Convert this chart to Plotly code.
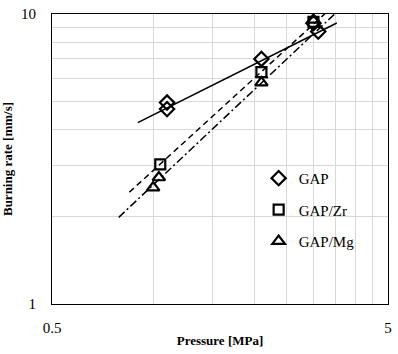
import plotly.graph_objects as go

# Data
gap_p = [1.1, 1.1, 2.1, 3.0, 3.1]
gap_r = [4.95, 4.7, 7.0, 9.3, 8.7]
zr_p = [1.05, 2.1, 3.0]
zr_r = [3.03, 6.3, 9.4]
mg_p = [1.0, 1.04, 2.1, 3.0]
mg_r = [2.52, 2.73, 5.8, 9.55]

# Fitted trend lines (end points)
gap_fit_p = [0.9, 3.52]
gap_fit_r = [4.22, 9.31]
zr_fit_p = [0.85, 3.3]
zr_fit_r = [2.43, 10.2]
mg_fit_p = [0.79, 3.5]
mg_fit_r = [1.99, 10.1]

x_ticks = [0.5, 1, 1.5, 2, 2.5, 3, 3.5, 4, 4.5, 5]
x_labels = ["0.5", "", "", "", "", "", "", "", "", "5"]
y_ticks = [1, 2, 3, 4, 5, 6, 7, 8, 9, 10]
y_labels = ["1", "", "", "", "", "", "", "", "", "10"]

SERIF = "Liberation Serif"

fig = go.Figure()

fig.add_trace(go.Scatter(x=gap_fit_p, y=gap_fit_r, mode="lines",
                         line=dict(color="black", width=1.5), showlegend=False, hoverinfo="skip"))
fig.add_trace(go.Scatter(x=zr_fit_p, y=zr_fit_r, mode="lines",
                         line=dict(color="black", width=1.5, dash="6px,4px"), showlegend=False, hoverinfo="skip"))
fig.add_trace(go.Scatter(x=mg_fit_p, y=mg_fit_r, mode="lines",
                         line=dict(color="black", width=1.5, dash="8px,3px,2px,3px"), showlegend=False, hoverinfo="skip"))

fig.add_trace(go.Scatter(x=gap_p, y=gap_r, mode="markers", name="GAP", legendgroup="a",
                         marker=dict(symbol="diamond-open", size=11, color="black", line=dict(width=2.2, color="black"))))
fig.add_trace(go.Scatter(x=zr_p, y=zr_r, mode="markers", name="GAP/Zr", legendgroup="b",
                         marker=dict(symbol="square-open", size=10, color="black", line=dict(width=2.2, color="black"))))
fig.add_trace(go.Scatter(x=mg_p, y=mg_r, mode="markers", name="GAP/Mg", legendgroup="c",
                         marker=dict(symbol="triangle-up-open", size=11, color="black", line=dict(width=2.2, color="black"))))

fig.add_shape(type="rect", xref="paper", yref="paper", x0=0.565, x1=0.994, y0=0.165, y1=0.478,
              fillcolor="white", line=dict(width=0), layer="between")

fig.update_xaxes(type="log", range=[-0.30103, 0.69897], tickvals=x_ticks, ticktext=x_labels,
                 showgrid=True, gridcolor="#d9d9d9", gridwidth=1,
                 showline=True, linecolor="black", linewidth=1, mirror=True,
                 ticks="", ticklabelstandoff=10,
                 tickfont=dict(family=SERIF, size=15, color="black"),
                 title=dict(text="Pressure [MPa]", font=dict(family=SERIF, size=13, color="black", weight="bold"),
                            standoff=0),
                 zeroline=False)
fig.update_yaxes(type="log", range=[0, 1], tickvals=y_ticks, ticktext=y_labels,
                 showgrid=True, gridcolor="#d9d9d9", gridwidth=1,
                 showline=True, linecolor="black", linewidth=1, mirror=True,
                 ticks="", ticklabelstandoff=12,
                 tickfont=dict(family=SERIF, size=15, color="black"),
                 title=dict(text="Burning rate [mm/s]", font=dict(family=SERIF, size=13, color="black", weight="bold"),
                            standoff=6),
                 zeroline=False)

fig.update_layout(
    width=398, height=354,
    margin=dict(l=45, r=6, t=13, b=50),
    plot_bgcolor="white", paper_bgcolor="white",
    legend=dict(x=0.615, y=0.49, xanchor="left", yanchor="top", bgcolor="rgba(0,0,0,0)",
                font=dict(family=SERIF, size=15, color="black"),
                traceorder="grouped", tracegroupgap=9),
)

fig.write_html("out.html")
